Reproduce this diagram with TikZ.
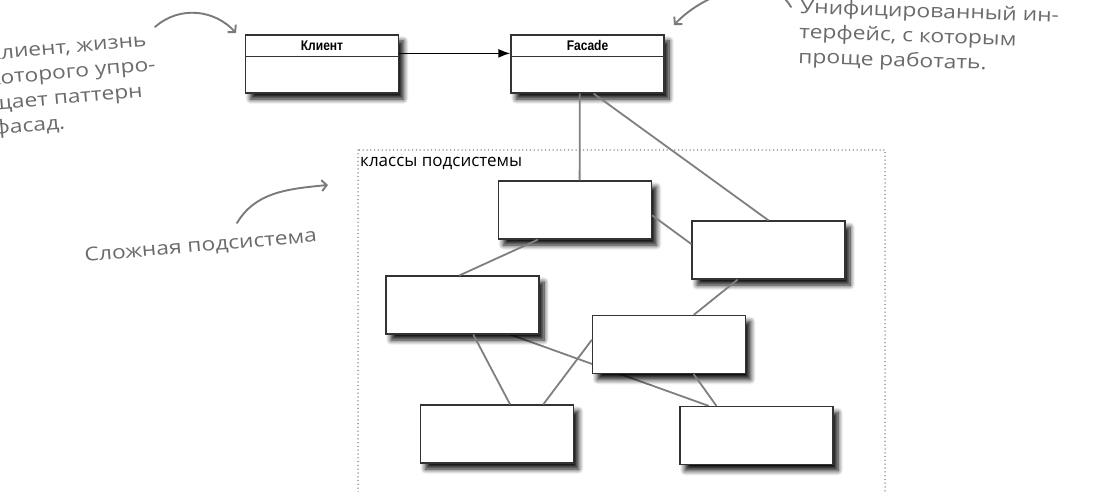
\documentclass[tikz,border=0pt]{standalone}
\usepackage{fontspec}
\setmainfont{Open Sans}
\newfontfamily\hand[FakeStretch=1.2]{Open Sans}
\newfontfamily\hdr[FakeStretch=0.86]{Liberation Sans}
\usetikzlibrary{calc,arrows.meta,shadows.blur,backgrounds}
\definecolor{handgray}{HTML}{6B6B6B}
\definecolor{arrgray}{HTML}{7A7A7A}
\definecolor{linkgray}{HTML}{7F7F7F}
\definecolor{boxline}{HTML}{333333}
\begin{document}
\begin{tikzpicture}[x=1pt,y=-1pt,
  umlbox/.style={draw=boxline, line width=1.2pt, fill=white, minimum width=153pt, minimum height=58pt, inner sep=0pt,
     blur shadow={shadow xshift=5pt, shadow yshift=-6pt, shadow blur radius=5pt, shadow blur steps=8, shadow opacity=95}},
  link/.style={draw=linkgray, line width=1.8pt},
  note/.style={text=handgray, font=\hand\fontsize{19}{25}\selectfont, align=left, inner sep=0pt},
  notearrow/.style={draw=arrgray, line width=1.9pt, line cap=round, -{Straight Barb[length=5pt,width=11pt]}},
  ttl/.style={font=\hdr\bfseries\fontsize{14}{16}\selectfont, inner sep=0pt},
  frame/.style={draw=black!55, line width=1.5pt, dash pattern=on 0pt off 3.8pt, line cap=round}
]
\useasboundingbox (0,0) rectangle (1117,492);
\clip (0,0) rectangle (1117,492);

% top classes
\node[umlbox] (C) at (322,64) {};
\node[umlbox] (F) at (587.5,64) {};
\draw[line width=1.2pt, draw=boxline] ($(C.north west)+(0,22)$) -- ($(C.north east)+(0,22)$);
\draw[line width=1.2pt, draw=boxline] ($(F.north west)+(0,22)$) -- ($(F.north east)+(0,22)$);
\node[ttl] (Ct) at ($(C.north)+(0,11)$) {Клиент};
\node[ttl] (Ft) at ($(F.north)+(0,11)$) {Facade};
\draw[line width=1.7pt, draw=black, -{Latex[length=12pt,width=9pt]}] ($(C.north east)+(0,19)$) -- ($(F.north west)+(0,19)$);

% subsystem frame
\draw[frame] (358,150) rectangle (885,530);
\node[anchor=base west, font=\fontsize{17}{19}\selectfont, inner sep=0pt] (lbl) at (360,167) {классы подсистемы};

% subsystem classes
\node[umlbox] (B1) at (575,210) {};
\node[umlbox] (B2) at (768.5,250) {};
\node[umlbox] (B3) at (462.5,305) {};
\node[umlbox] (B4) at (669,344.5) {};
\node[umlbox] (B5) at (497,434) {};
\node[umlbox] (B6) at (756.5,435.5) {};

% connectors
\begin{pgfonlayer}{background}
\draw[link] ($(B3.south west)!0.81!(B3.south east)$) -- ($(B6.north west)!0.19!(B6.north east)$);
\end{pgfonlayer}
\draw[link] ($(F.south west)!0.45!(F.south east)$) -- ($(B1.north west)!0.53!(B1.north east)$);
\draw[link] ($(F.south west)!0.54!(F.south east)$) -- (B2.north);
\draw[link] ($(B1.north east)!0.59!(B1.south east)$) -- ($(B2.north west)!0.40!(B2.south west)$);
\draw[link] ($(B1.south west)!0.26!(B1.south east)$) -- ($(B3.north west)!0.48!(B3.north east)$);
\draw[link] ($(B2.south west)!0.30!(B2.south east)$) -- ($(B4.north west)!0.66!(B4.north east)$);
\draw[link] ($(B3.south west)!0.57!(B3.south east)$) -- ($(B5.north west)!0.585!(B5.north east)$);
\draw[link] ($(B4.north west)!0.42!(B4.south west)$) -- ($(B5.north west)!0.80!(B5.north east)$);
\draw[link] ($(B4.south west)!0.66!(B4.south east)$) -- ($(B6.north west)!0.24!(B6.north east)$);

% annotations
\node[note, anchor=base west, rotate=5] (n1) at (-6,135) {Клиент, жизнь\\которого упро-\\щает паттерн\\фасад.};
\node[note, anchor=base west, rotate=-2] (n2) at (798,63) {Унифицированный ин-\\терфейс, с которым\\проще работать.};
\node[note, anchor=base west, rotate=5] (n3) at (85,262) {Сложная подсистема};

\coordinate (a1s) at (155,27);
\coordinate (a1e) at (236,33);
\coordinate (a2s) at (791,7);
\coordinate (a2e) at (674,25);
\coordinate (a3s) at (237,223);
\coordinate (a3e) at (328,185);
\draw[notearrow] (a1s) .. controls (180,5) and (215,10) .. (a1e);
\draw[notearrow] (a2s) .. controls (770,-30) and (705,-8) .. (a2e);
\draw[notearrow] (a3s) .. controls (255,193) and (285,189) .. (a3e);
\end{tikzpicture}
\end{document}
